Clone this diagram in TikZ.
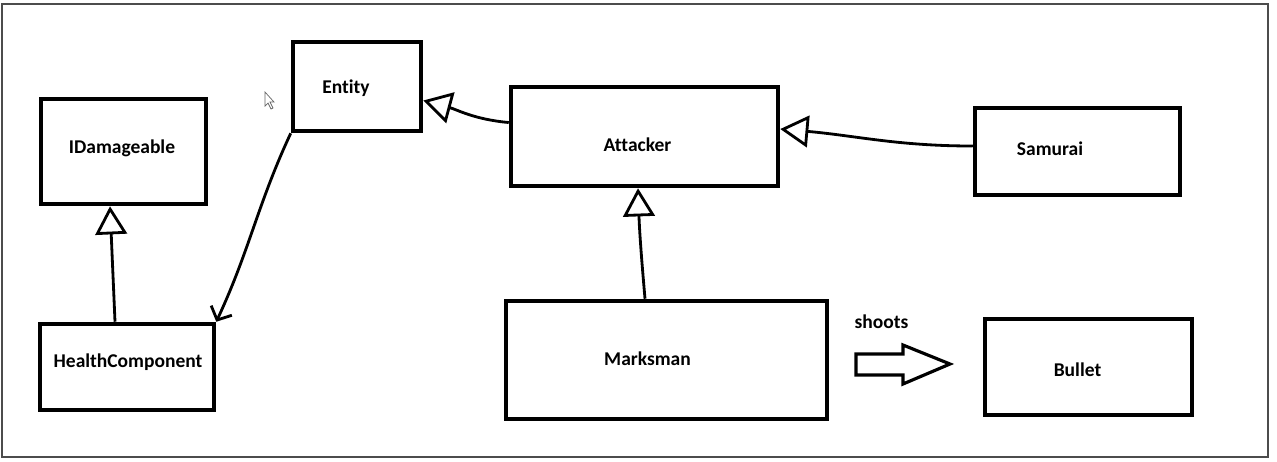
\documentclass[tikz,border=0pt]{standalone}
\usepackage{fontspec}
\setmainfont{Carlito}[Ligatures=CommonOff]
\usetikzlibrary{arrows.meta,positioning,calc}
\tikzstyle{box}=[draw, line width=2.6pt, inner sep=0pt]
\tikzstyle{classname}=[font=\bfseries\fontsize{11.1}{13}\selectfont, inner sep=0pt]
\tikzstyle{inherits}=[line width=1.6pt, -{Triangle[open,length=16pt,width=18pt,line width=1.6pt]}]
\tikzstyle{uses}=[line width=1.6pt, -{Straight Barb[length=6pt,width=13pt,line width=1.6pt]}]

\begin{document}
\begin{tikzpicture}[x=0.02cm,y=-0.02cm]
      \useasboundingbox (0,0) rectangle (1277,461);
      \draw[black!70, line width=1.1pt] (2,4) rectangle (1268,457);
      % classes
      \node[box, minimum width=3.3cm,  minimum height=2.1cm]  at (123.5,151.5) (idamage)  {};
      \node[box, minimum width=2.56cm, minimum height=1.78cm] at (357,86.5)    (entity)   {};
      \node[box, minimum width=3.48cm, minimum height=1.72cm] at (127,367)     (health)   {};
      \node[box, minimum width=5.34cm, minimum height=1.98cm] at (644.5,136.5) (attacker) {};
      \node[box, minimum width=4.1cm,  minimum height=1.74cm] at (1077.5,151.5) (samurai) {};
      \node[box, minimum width=6.42cm, minimum height=2.36cm] at (666.5,360)   (marksman) {};
      \node[box, minimum width=4.14cm, minimum height=1.92cm] at (1088.5,367)  (bullet)   {};
      \node[classname] at (122,148)   (idamagetext)  {IDamageable};
      \node[classname] at (346,88)    (entitytext)   {Entity};
      \node[classname] at (128,362)   (healthtext)   {HealthComponent};
      \node[classname] at (637.5,145) (attackertext) {Attacker};
      \node[classname] at (1050,148.5) (samuraitext) {Samurai};
      \node[classname] at (647.5,359) (marksmantext) {Marksman};
      \node[classname] at (1077.5,370) (bullettext)  {Bullet};
      \node[classname] at (881.5,321.5) (shoots)     {shoots};
      % relations
      \draw[inherits] ([xshift=-0.24cm]health.north) -- ([xshift=-0.27cm]idamage.south);
      \draw[uses] (entity.south west) to[out=245,in=65] (health.north east);
      \draw[inherits] ([yshift=0.28cm]attacker.west) to[out=175,in=-15] ([yshift=-0.28cm]entity.east);
      \draw[inherits] ([yshift=0.11cm]samurai.west) to[out=180,in=-5] ([yshift=0.15cm]attacker.east);
      \draw[inherits] ([xshift=-0.43cm]marksman.north) to[out=95,in=-88] ([xshift=-0.13cm]attacker.south);
      % block arrow
      \draw[line width=1.8pt, line join=miter] (856,354) -- (903,354) -- (903,345) -- (950,364)
            -- (903,384) -- (903,375) -- (856,375) -- cycle;
      % mouse pointer
      \draw[black!60, line width=0.4pt, fill=white] (265,92) -- (265,106) -- (268,103) -- (271,109)
            -- (273,108) -- (270,102) -- (274,102) -- cycle;
\end{tikzpicture}
\end{document}
